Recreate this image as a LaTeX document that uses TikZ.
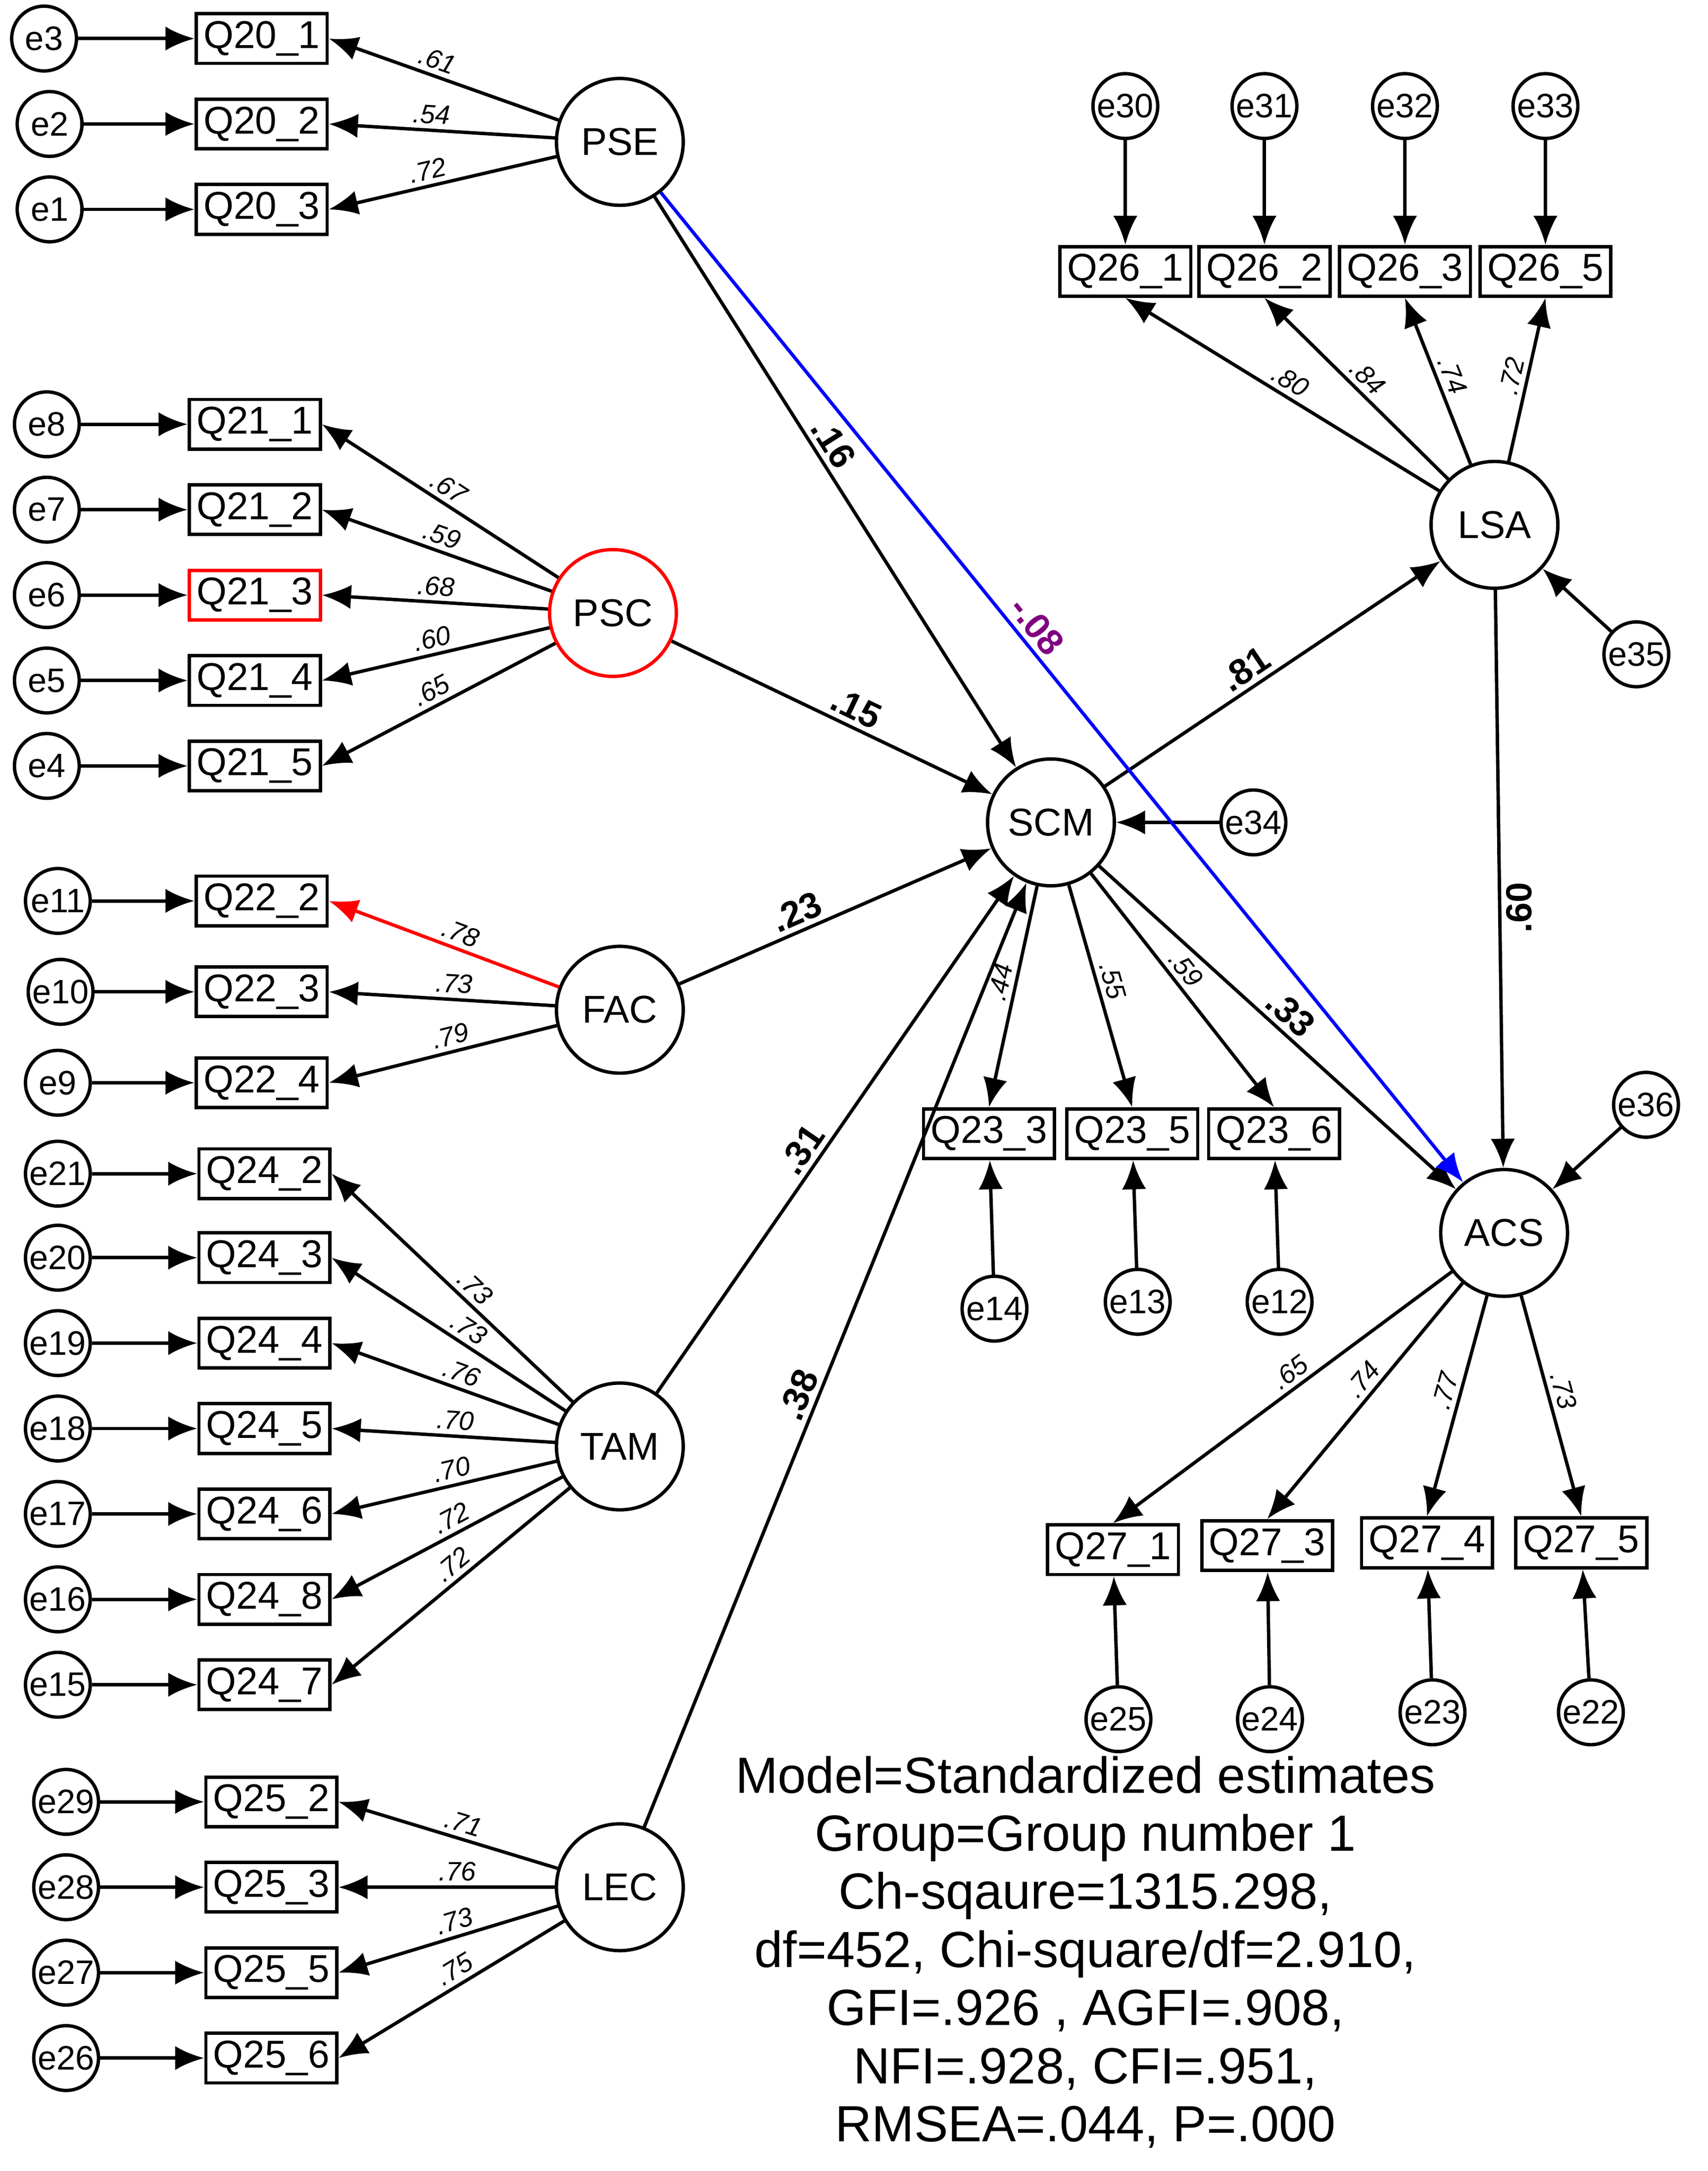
\documentclass[tikz,border=0pt]{standalone}
\usepackage{fontspec}
\setmainfont{Liberation Sans}
\usetikzlibrary{arrows.meta}
\begin{document}
\begin{tikzpicture}[x=0.01cm,y=-0.01cm,
  every node/.style={font=\fontsize{8}{9}\selectfont, inner sep=0pt},
  err/.style={draw, circle, minimum size=0.47cm, line width=0.7pt, font=\fontsize{7}{8}\selectfont},
  lat/.style={draw, circle, minimum size=0.92cm, line width=0.7pt},
  obs/.style={draw, rectangle, minimum width=0.95cm, minimum height=0.36cm, line width=0.7pt},
  arr/.style={line width=0.7pt, -{Latex[length=6pt,width=5pt]}},
  ld/.style={font=\fontsize{5.5}{6}\selectfont\itshape, sloped, above=1pt},
  pth/.style={font=\fontsize{7.5}{8}\selectfont\bfseries, sloped, above=1pt}]
\useasboundingbox (0,0) rectangle (1240,1576);
% latent
\node[lat] (PSE) at (450,103) {PSE};
\node[lat, draw=red] (PSC) at (445,445) {PSC};
\node[lat] (FAC) at (450,733) {FAC};
\node[lat] (TAM) at (450,1050) {TAM};
\node[lat] (LEC) at (450,1370) {LEC};
\node[lat] (SCM) at (763,597) {SCM};
\node[lat] (LSA) at (1085,381) {LSA};
\node[lat] (ACS) at (1092,895) {ACS};
% PSE
\foreach \n/\e/\y/\l/\ex in {Q20_1/e3/28/.61/32, Q20_2/e2/90/.54/36, Q20_3/e1/152/.72/36}{
  \node[obs] (\n) at (190,\y) {\detokenize\expandafter{\n}};
  \node[err] (\e) at (\ex,\y) {\e};
  \draw[arr] (\e) -- (\n);
  \draw[arr] (PSE) -- node[ld,pos=0.55]{\l} (\n.east);
}
\foreach \n/\e/\y/\l in {Q21_1/e8/308/.67, Q21_2/e7/370/.59, Q21_3/e6/432/.68, Q21_4/e5/494/.60, Q21_5/e4/556/.65}{
  \node[obs] (\n) at (185,\y) {\detokenize\expandafter{\n}};
  \node[err] (\e) at (34,\y) {\e};
  \draw[arr] (\e) -- (\n);
  \draw[arr] (PSC) -- node[ld,pos=0.5]{\l} (\n.east);
}
\node[obs, draw=red] at (Q21_3) {};
\foreach \n/\e/\y/\l/\ex in {Q22_2/e11/654/.78/42, Q22_3/e10/720/.73/44, Q22_4/e9/786/.79/42}{
  \node[obs] (\n) at (190,\y) {\detokenize\expandafter{\n}};
  \node[err] (\e) at (\ex,\y) {\e};
  \draw[arr] (\e) -- (\n);
}
\draw[arr, draw=red] (FAC) -- node[ld,pos=0.45]{.78} (Q22_2.east);
\draw[arr] (FAC) -- node[ld,pos=0.45]{.73} (Q22_3.east);
\draw[arr] (FAC) -- node[ld,pos=0.45]{.79} (Q22_4.east);
\foreach \n/\e/\y/\l in {Q24_2/e21/852/.73, Q24_3/e20/913/.73, Q24_4/e19/975/.76, Q24_5/e18/1037/.70, Q24_6/e17/1099/.70, Q24_8/e16/1161/.72, Q24_7/e15/1223/.72}{
  \node[obs] (\n) at (192,\y) {\detokenize\expandafter{\n}};
  \node[err] (\e) at (42,\y) {\e};
  \draw[arr] (\e) -- (\n);
  \draw[arr] (TAM) -- node[ld,pos=0.45]{\l} (\n.east);
}
\foreach \n/\e/\y/\l in {Q25_2/e29/1308/.71, Q25_3/e28/1370/.76, Q25_5/e27/1432/.73, Q25_6/e26/1494/.75}{
  \node[obs] (\n) at (197,\y) {\detokenize\expandafter{\n}};
  \node[err] (\e) at (48,\y) {\e};
  \draw[arr] (\e) -- (\n);
  \draw[arr] (LEC) -- node[ld,pos=0.45]{\l} (\n.east);
}
% SCM indicators
\foreach \n/\e/\x/\ey/\l in {Q23_3/e14/718/950/.44, Q23_5/e13/822/945/.55, Q23_6/e12/925/945/.59}{
  \node[obs] (\n) at (\x,823) {\detokenize\expandafter{\n}};
  \node[err] (\e) at (\x+4,\ey) {\e};
  \draw[arr] (\e) -- (\n);
  \draw[arr] (SCM) -- node[ld,pos=0.45]{\l} (\n.north);
}
\node[err] (e34) at (910,597) {e34};
\draw[arr] (e34) -- (SCM);
% LSA indicators
\foreach \n/\e/\x/\l in {Q26_1/e30/817/.80, Q26_2/e31/918/.84, Q26_3/e32/1020/.74, Q26_5/e33/1122/.72}{
  \node[obs] (\n) at (\x,197) {\detokenize\expandafter{\n}};
  \node[err] (\e) at (\x,77) {\e};
  \draw[arr] (\e) -- (\n);
  \draw[arr] (LSA) -- node[ld,pos=0.5]{\l} (\n.south);
}
\node[err] (e35) at (1188,475) {e35};
\draw[arr] (e35) -- (LSA);
% ACS indicators
\foreach \n/\e/\x/\y/\ex/\ey/\l in {Q27_1/e25/808/1125/812/1248/.65, Q27_3/e24/920/1122/922/1248/.74, Q27_4/e23/1036/1120/1040/1243/.77, Q27_5/e22/1148/1120/1155/1243/.73}{
  \node[obs] (\n) at (\x,\y) {\detokenize\expandafter{\n}};
  \node[err] (\e) at (\ex,\ey) {\e};
  \draw[arr] (\e) -- (\n);
  \draw[arr] (ACS) -- node[ld,pos=0.45]{\l} (\n.north);
}
\node[err] (e36) at (1195,802) {e36};
\draw[arr] (e36) -- (ACS);
% structural paths
\draw[arr] (PSE) -- node[pth,pos=0.45]{.16} (SCM);
\draw[arr] (PSC) -- node[pth,pos=0.55]{.15} (SCM);
\draw[arr] (FAC) -- node[pth,pos=0.4]{.23} (SCM);
\draw[arr] (TAM) -- node[pth,pos=0.45]{.31} (SCM);
\draw[arr] (LEC) -- node[pth,pos=0.45]{.38} (SCM);
\draw[arr] (SCM) -- node[pth,pos=0.45]{.81} (LSA);
\draw[arr] (SCM) -- node[pth,pos=0.5]{.33} (ACS);
\draw[arr] (LSA) -- node[pos=0.55, right=4pt, rotate=90, anchor=center, font=\fontsize{7.5}{8}\selectfont\bfseries]{.60} (ACS);
\draw[arr, draw=blue, -{Latex[length=6pt,width=5pt,fill=blue]}] (PSE) -- node[pth,pos=0.45,text=violet]{-.08} (ACS);
% fit text
\node[font=\fontsize{10.5}{12}\selectfont, align=center, anchor=north] (fit) at (788,1274) {Model=Standardized estimates\\Group=Group number 1\\Ch-sqaure=1315.298,\\df=452, Chi-square/df=2.910,\\GFI=.926 , AGFI=.908,\\NFI=.928, CFI=.951,\\RMSEA=.044, P=.000};
\end{tikzpicture}
\end{document}
